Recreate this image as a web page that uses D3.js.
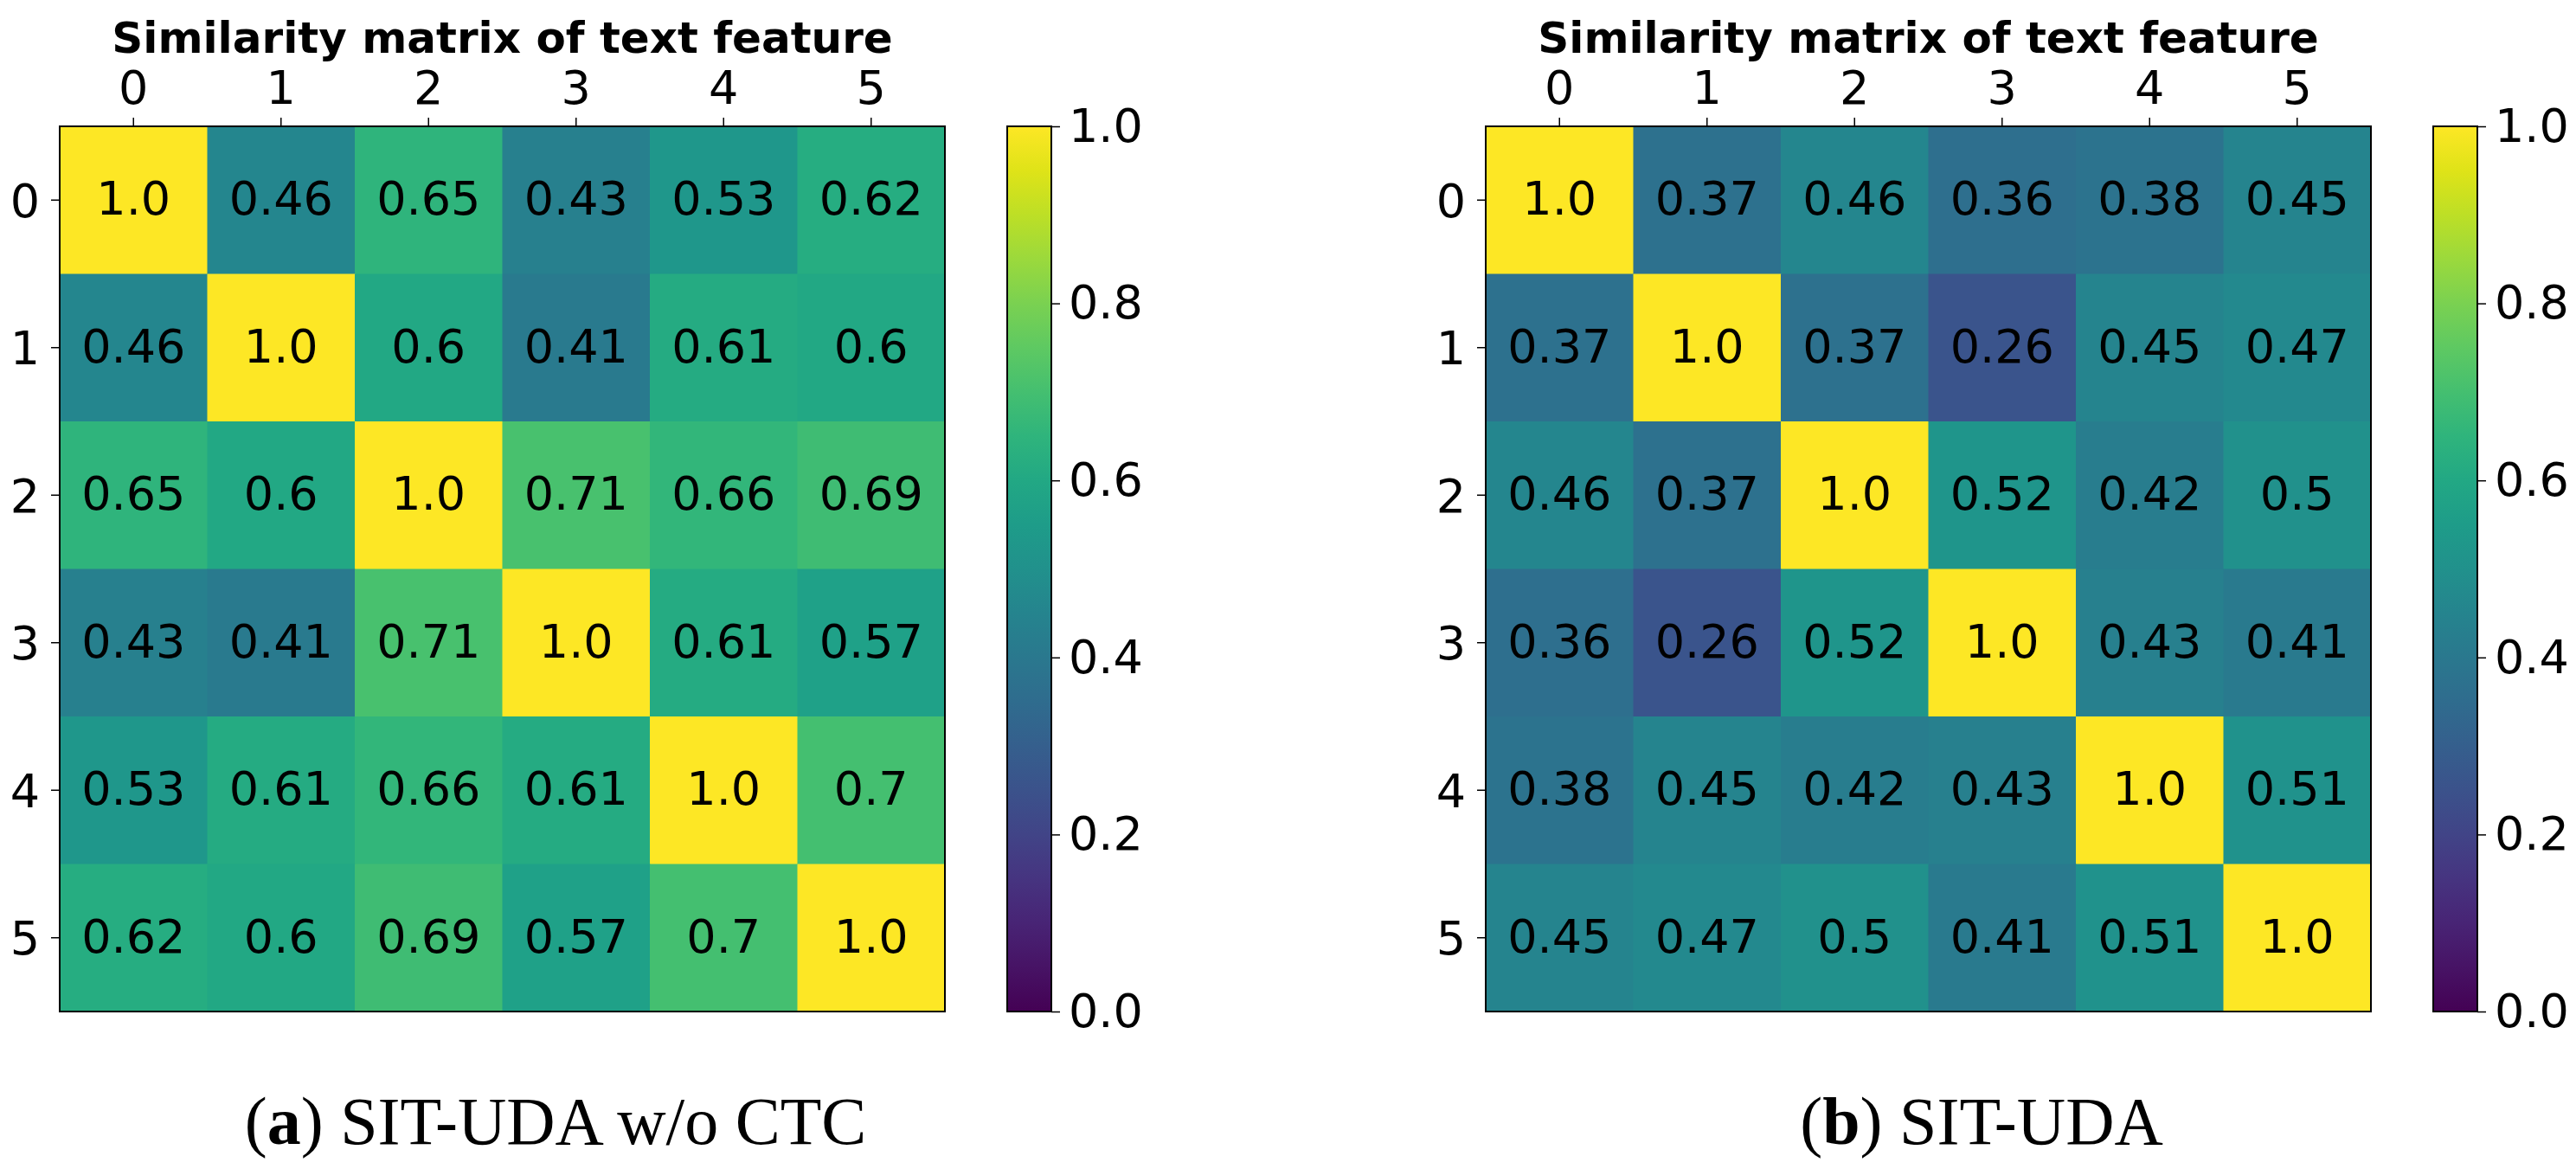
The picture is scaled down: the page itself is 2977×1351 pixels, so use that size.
<!DOCTYPE html>
<html>
<head>
<meta charset="utf-8">
<script src="https://cdn.jsdelivr.net/npm/d3@7"></script>
<style>
  body { margin: 0; background: #fff; }
  svg { display: block; }
  text { font-family: "DejaVu Sans", sans-serif; fill: #000; }
</style>
</head>
<body>
<svg width="2977" height="1351"></svg>
<script>
// categories / tick labels
var labels = ["0", "1", "2", "3", "4", "5"];
var cbTicks = [0, 0.2, 0.4, 0.6, 0.8, 1.0];

// similarity values
var matA = [
  [1.0, 0.46, 0.65, 0.43, 0.53, 0.62],
  [0.46, 1.0, 0.6, 0.41, 0.61, 0.6],
  [0.65, 0.6, 1.0, 0.71, 0.66, 0.69],
  [0.43, 0.41, 0.71, 1.0, 0.61, 0.57],
  [0.53, 0.61, 0.66, 0.61, 1.0, 0.7],
  [0.62, 0.6, 0.69, 0.57, 0.7, 1.0]
];
var matB = [
  [1.0, 0.37, 0.46, 0.36, 0.38, 0.45],
  [0.37, 1.0, 0.37, 0.26, 0.45, 0.47],
  [0.46, 0.37, 1.0, 0.52, 0.42, 0.5],
  [0.36, 0.26, 0.52, 1.0, 0.43, 0.41],
  [0.38, 0.45, 0.42, 0.43, 1.0, 0.51],
  [0.45, 0.47, 0.5, 0.41, 0.51, 1.0]
];
var titles = ["Similarity matrix of text feature", "Similarity matrix of text feature"];
var capLetters = ["a", "b"];
var capTexts = [" SIT-UDA w/o CTC", " SIT-UDA"];

var size = 1023, topY = 146;
var panelLeft = [69, 1717];
var cbGap = 1095, cbW = 51;

var svg = d3.select("svg");
var color = d3.scaleSequential(d3.interpolateViridis).domain([0, 1]);
var fmt = function(v) { return Number.isInteger(v) ? v.toFixed(1) : String(v); };

// colorbar gradient
var grad = svg.append("defs").append("linearGradient")
    .attr("id", "vir")
    .attr("x1", 0).attr("y1", 1).attr("x2", 0).attr("y2", 0);
d3.range(0, 1.0001, 0.05).forEach(function(t) {
  grad.append("stop").attr("offset", t).attr("stop-color", color(t));
});

function drawPanel(mat, i) {
  var g = svg.append("g")
      .attr("transform", "translate(" + panelLeft[i] + "," + topY + ")");

  var x = d3.scaleBand().domain(labels).range([0, size]);
  var y = d3.scaleBand().domain(labels).range([0, size]);

  var cells = [];
  mat.forEach(function(row, r) {
    row.forEach(function(v, c) { cells.push({r: r, c: c, v: v}); });
  });

  g.selectAll("rect.cell")
    .data(cells)
    .enter().append("rect")
      .attr("class", "cell")
      .attr("x", function(d) { return x(labels[d.c]); })
      .attr("y", function(d) { return y(labels[d.r]); })
      .attr("width", x.bandwidth() + 0.5)
      .attr("height", y.bandwidth() + 0.5)
      .attr("fill", function(d) { return color(d.v); });

  g.selectAll("text.val")
    .data(cells)
    .enter().append("text")
      .attr("class", "val")
      .attr("x", function(d) { return x(labels[d.c]) + x.bandwidth() / 2; })
      .attr("y", function(d) { return y(labels[d.r]) + y.bandwidth() / 2 + 17; })
      .attr("text-anchor", "middle")
      .style("font-size", "54px")
      .text(function(d) { return fmt(d.v); });

  // frame
  g.append("rect")
    .attr("width", size).attr("height", size)
    .attr("fill", "none").attr("stroke", "#000").attr("stroke-width", 2);

  // top axis
  var xa = g.append("g")
    .call(d3.axisTop(x).tickSize(10).tickPadding(16));
  // left axis
  var ya = g.append("g")
    .call(d3.axisLeft(y).tickSize(10).tickPadding(13));
  [xa, ya].forEach(function(a) {
    a.select(".domain").remove();
    a.selectAll(".tick line").attr("stroke", "#000").attr("stroke-width", 1.5);
    a.selectAll(".tick text").attr("fill", "#000")
      .style("font-family", "DejaVu Sans").style("font-size", "54px");
  });
  ya.selectAll(".tick text").attr("dy", "0.36em");

  g.append("text")
    .attr("x", size / 2).attr("y", -85)
    .attr("text-anchor", "middle")
    .style("font-size", "50px").style("font-weight", "bold")
    .text(titles[i]);

  // colorbar
  var cb = g.append("g").attr("transform", "translate(" + cbGap + ",0)");
  var cy = d3.scaleLinear().domain([0, 1]).range([size, 0]);
  cb.append("rect")
    .attr("width", cbW).attr("height", size)
    .attr("fill", "url(#vir)").attr("stroke", "#000").attr("stroke-width", 2);
  var ca = cb.append("g")
    .attr("transform", "translate(" + cbW + ",0)")
    .call(d3.axisRight(cy).tickValues(cbTicks).tickFormat(d3.format(".1f"))
      .tickSize(10).tickPadding(10));
  ca.select(".domain").remove();
  ca.selectAll(".tick line").attr("stroke", "#000").attr("stroke-width", 1.5);
  ca.selectAll(".tick text").attr("fill", "#000")
    .style("font-family", "DejaVu Sans").style("font-size", "54px");

  // caption
  var cap = svg.append("text")
    .attr("x", panelLeft[i] + 573).attr("y", 1322)
    .attr("text-anchor", "middle")
    .style("font-family", "'Liberation Serif', serif")
    .style("font-size", "78px");
  cap.append("tspan").text("(");
  cap.append("tspan").style("font-weight", "bold").text(capLetters[i]);
  cap.append("tspan").text(")" + capTexts[i]);
}

drawPanel(matA, 0);
drawPanel(matB, 1);
</script>
</body>
</html>
